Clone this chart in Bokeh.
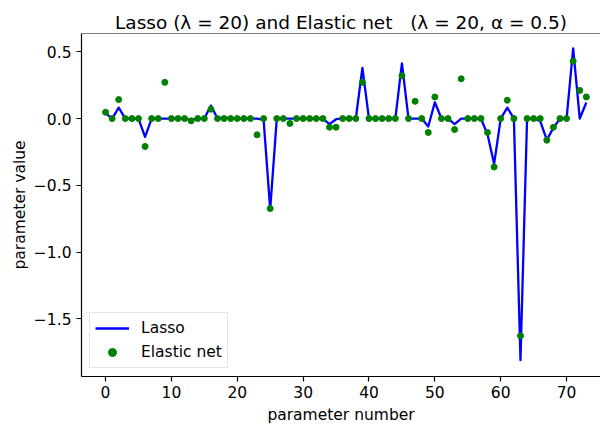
from bokeh.plotting import figure
from bokeh.models import Range1d, FixedTicker, Span, Legend, LegendItem
from bokeh.embed import file_html
from bokeh.resources import INLINE

# Fitted coefficients for each of the 74 parameters
param_index = list(range(74))

lasso_coef = [
    0.04, 0.0, 0.082, 0.0, 0.0, 0.0, -0.137, 0.0, 0.0, 0.0,
    0.0, 0.0, 0.0, -0.01, 0.0, 0.0, 0.097, 0.0, 0.01, 0.0,
    0.0, 0.0, 0.0, 0.0, -0.01, -0.68, 0.0, 0.0, 0.0, 0.0,
    0.0, 0.0, 0.0, 0.0, -0.042, -0.005, 0.0, 0.0, 0.0, 0.38,
    0.0, 0.0, 0.0, 0.0, 0.0, 0.413, 0.0, 0.0, 0.0, -0.06,
    0.122, 0.0, 0.0, -0.042, 0.0, 0.0, 0.0, 0.0, -0.12, -0.34,
    0.0, 0.082, 0.0, -1.81, 0.0, 0.0, -0.02, -0.16, -0.07, 0.0,
    0.0, 0.525, 0.0, 0.12,
]

elastic_coef = [
    0.047, 0.0, 0.142, 0.0, 0.0, 0.0, -0.209, 0.0, 0.0, 0.271,
    0.0, 0.0, 0.0, -0.017, 0.0, 0.0, 0.07, 0.0, 0.0, 0.0,
    0.0, 0.0, 0.0, -0.122, 0.0, -0.674, 0.0, 0.0, -0.037, 0.0,
    0.0, 0.0, 0.0, 0.0, -0.065, -0.065, 0.0, 0.0, 0.0, 0.271,
    0.0, 0.0, 0.0, 0.0, 0.0, 0.321, 0.0, 0.129, 0.0, -0.104,
    0.162, 0.0, 0.0, -0.082, 0.298, 0.0, 0.0, 0.0, -0.104, -0.363,
    0.0, 0.137, 0.0, -1.627, 0.0, 0.0, 0.0, -0.162, -0.065, 0.0,
    0.0, 0.43, 0.211, 0.162,
]

x_ticks = [0, 10, 20, 30, 40, 50, 60, 70]
y_ticks = [-1.5, -1.0, -0.5, 0.0, 0.5]
y_tick_labels = {-1.5: "\u22121.5", -1.0: "\u22121.0", -0.5: "\u22120.5", 0.0: "0.0", 0.5: "0.5"}

FONT = "DejaVu Sans"
LABEL_SIZE = "15.5px"
NBSP = "\u00a0"
Y_TOP = 0.637

p = figure(
    width=600, height=428,
    output_backend="svg", toolbar_location=None,
    x_range=Range1d(-3.65, 75.15), y_range=Range1d(-1.932, Y_TOP),
    min_border_left=81, min_border_right=0, min_border_top=33, min_border_bottom=52,
    title="Lasso (\u03bb = 20) and Elastic net" + NBSP * 3 + "(\u03bb = 20, \u03b1 = 0.5)",
)
p.title.align = "center"
p.title.offset = 8
p.title.standoff = 2
p.title.text_font = FONT
p.title.text_font_size = "18.5px"
p.title.text_font_style = "normal"
p.title.text_color = "black"

p.background_fill_color = "white"
p.border_fill_color = "white"
p.outline_line_color = None
p.grid.visible = False

# top spine
p.add_layout(Span(location=Y_TOP, dimension="width", line_color="black", line_width=1.2))

p.xaxis.ticker = FixedTicker(ticks=x_ticks)
p.yaxis.ticker = FixedTicker(ticks=y_ticks)
p.yaxis.major_label_overrides = y_tick_labels
for ax in (p.xaxis, p.yaxis):
    ax.axis_line_color = "black"
    ax.axis_line_width = 1.2
    ax.major_tick_line_color = "black"
    ax.major_tick_line_width = 1.2
    ax.major_tick_in = 0
    ax.major_tick_out = 5
    ax.minor_tick_line_color = None
    ax.major_label_text_font = FONT
    ax.major_label_text_font_size = LABEL_SIZE
    ax.major_label_text_color = "black"
    ax.axis_label_text_font = FONT
    ax.axis_label_text_font_size = LABEL_SIZE
    ax.axis_label_text_font_style = "normal"
    ax.axis_label_text_color = "black"
p.xaxis.axis_label = "parameter number"
p.yaxis.axis_label = "parameter value"
p.xaxis.major_label_standoff = 4
p.yaxis.major_label_standoff = 5
p.xaxis.axis_label_standoff = 5
p.yaxis.axis_label_standoff = 2

lasso_r = p.line(param_index, lasso_coef, line_color="#0000ff", line_width=2.3, line_join="round")
enet_r = p.scatter(param_index, elastic_coef, size=6, fill_color="#008000", line_color="#008000")

legend = Legend(
    items=[LegendItem(label="Lasso", renderers=[lasso_r]),
           LegendItem(label="Elastic net", renderers=[enet_r])],
    location="bottom_left",
    margin=8, padding=5, spacing=4,
    glyph_width=34, glyph_height=20, label_standoff=12,
    label_text_font=FONT, label_text_font_size=LABEL_SIZE, label_text_color="black",
    border_line_color="#cccccc", border_line_width=1,
    background_fill_color="white", background_fill_alpha=0.8,
)
p.add_layout(legend)

open("out.html", "w").write(file_html(p, INLINE))
